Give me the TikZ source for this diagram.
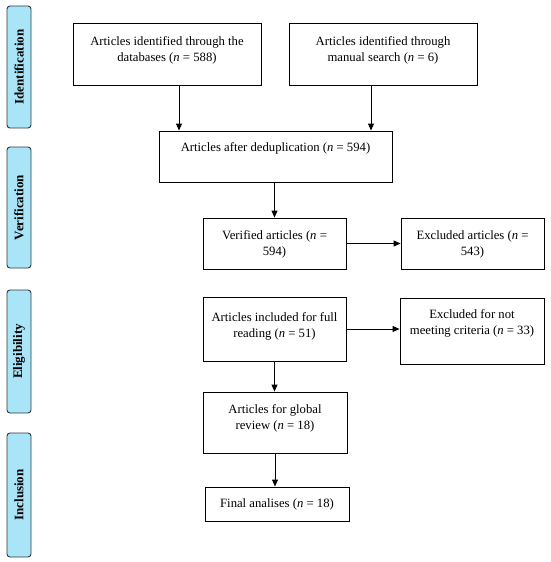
\documentclass[tikz,border=0pt]{standalone}
\usepackage{fontspec}
\setmainfont{Liberation Serif}
\usetikzlibrary{arrows.meta}
\definecolor{sidefill}{HTML}{A9E5F7}
\definecolor{sideline}{HTML}{2B3A42}
\begin{document}
\begin{tikzpicture}[x=1pt,y=-1pt,
 box/.style={draw, line width=0.9pt, inner sep=0},
 txt/.style={align=center, font=\fontsize{12.7}{16}\selectfont, inner sep=0, anchor=north},
 side/.style={draw=sideline, fill=sidefill, rounded corners=3pt, line width=0.9pt, inner sep=0, minimum width=24pt},
 sidetxt/.style={font=\fontsize{13}{15}\selectfont\bfseries, rotate=90, inner sep=0},
 arr/.style={-{Triangle[length=7pt,width=6pt]}, line width=0.9pt}]
\useasboundingbox (0,0) rectangle (550,562);
% side labels
\node[side, minimum height=122pt] (s1) at (19,67) {};
\node[sidetxt] (s1t) at (s1) {Identification};
\node[side, minimum height=121pt] (s2) at (19,207.5) {};
\node[sidetxt] (s2t) at (s2) {Verification};
\node[side, minimum height=123pt] (s3) at (19,351.5) {};
\node[sidetxt] (s3t) at (s3) {Eligibility};
\node[side, minimum height=124pt] (s4) at (19,495) {};
\node[sidetxt] (s4t) at (s4) {Inclusion};
% boxes
\node[box, minimum width=188pt, minimum height=62pt] (b1) at (167,54) {};
\node[txt] (b1t) at ([yshift=-13.5pt]b1.north) {Articles identified through the\\databases (\textit{n} = 588)};
\node[box, minimum width=188pt, minimum height=62pt] (b2) at (383,54) {};
\node[txt] (b2t) at ([yshift=-13.5pt]b2.north) {Articles identified through\\manual search (\textit{n} = 6)};
\node[box, minimum width=233pt, minimum height=51pt] (b3) at (275.5,156.5) {};
\node[txt] (b3t) at ([yshift=-12pt]b3.north) {Articles after deduplication (\textit{n} = 594)};
\node[box, minimum width=143pt, minimum height=51pt] (b4) at (274.5,243.5) {};
\node[txt] (b4t) at ([yshift=-13pt]b4.north) {Verified articles (\textit{n} =\\594)};
\node[box, minimum width=143pt, minimum height=51pt] (b5) at (472.5,243.5) {};
\node[txt] (b5t) at ([yshift=-13pt]b5.north) {Excluded articles (\textit{n} =\\543)};
\node[box, minimum width=143pt, minimum height=64pt] (b6) at (274.5,329) {};
\node[txt] (b6t) at ([yshift=-16pt]b6.north) {Articles included for full\\reading (\textit{n} = 51)};
\node[box, minimum width=144pt, minimum height=66pt] (b7) at (472,331) {};
\node[txt] (b7t) at ([yshift=-11.5pt]b7.north) {Excluded for not\\meeting criteria (\textit{n} = 33)};
\node[box, minimum width=144pt, minimum height=61pt] (b8) at (275,422.5) {};
\node[txt] (b8t) at ([yshift=-13pt]b8.north) {Articles for global\\review (\textit{n} = 18)};
\node[box, minimum width=144pt, minimum height=34pt] (b9) at (277,504) {};
\node[txt, anchor=center] (b9t) at (b9) {Final analises (\textit{n} = 18)};
% arrows
\draw[arr] ([xshift=12pt]b1.south) -- ([xshift=12pt]b1.south |- b3.north);
\draw[arr] ([xshift=-12pt]b2.south) -- ([xshift=-12pt]b2.south |- b3.north);
\draw[arr] (b4.north |- b3.south) -- (b4.north);
\draw[arr] (b4.east) -- (b5.west);
\draw[arr] (b6.east) -- (b6.east -| b7.west);
\draw[arr] (b6.south) -- (b6.south |- b8.north);
\draw[arr] (b8.south) -- (b8.south |- b9.north);
\end{tikzpicture}
\end{document}
